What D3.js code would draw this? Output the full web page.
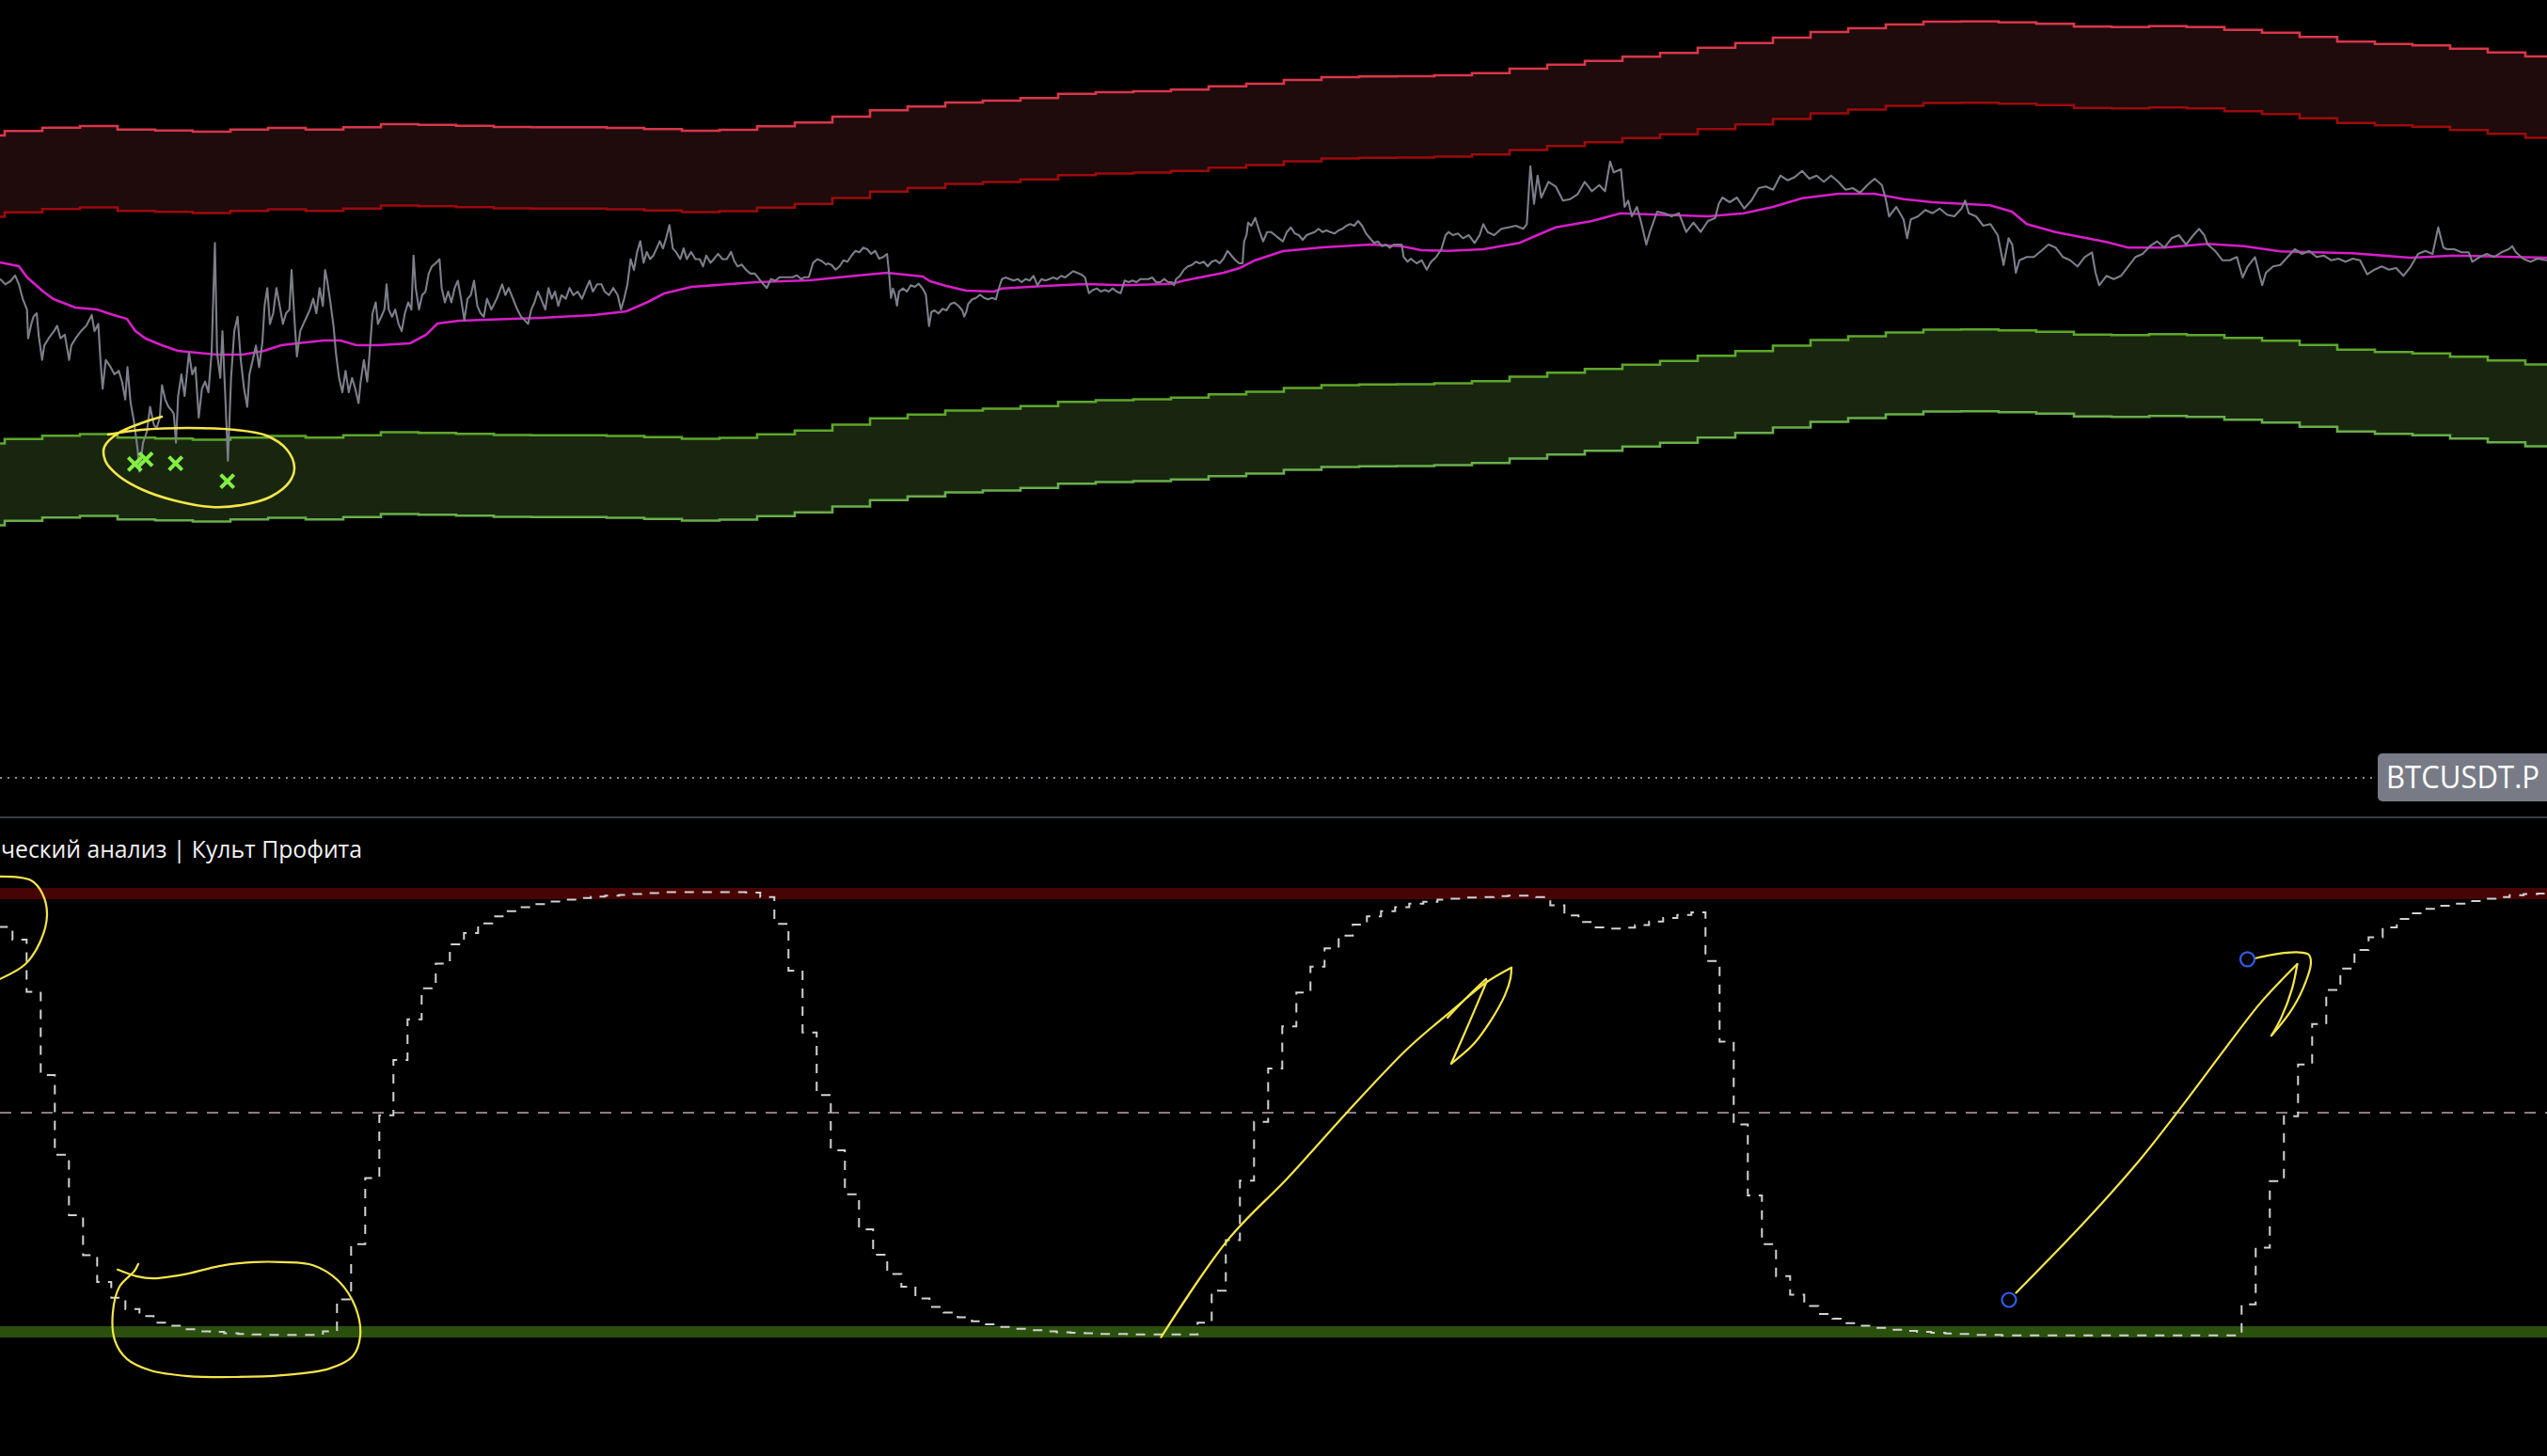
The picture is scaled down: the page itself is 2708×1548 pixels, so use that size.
<!DOCTYPE html>
<html><head><meta charset="utf-8">
<script src="https://cdn.jsdelivr.net/npm/d3@7"></script>
<style>html,body{margin:0;padding:0;background:#000;overflow:hidden}</style>
</head><body>
<svg id="c" width="2708" height="1548"></svg>
<script>
// ---------- DATA ----------
// band basis (upper edge of the red channel), one value per 8-day step
const bandBasis = [85.6,86.07,86.43,86.6,86.23,86.13,86.0,86.23,86.4,86.23,86.47,86.8,86.73,86.63,86.5,86.47,86.47,86.4,86.27,86.1,86.2,86.57,86.97,87.6,88.27,88.67,89.1,89.3,89.57,90.03,90.2,90.3,90.47,90.83,91.1,91.5,91.8,91.87,91.9,92.0,92.23,92.7,93.13,93.53,93.97,94.37,94.93,95.43,96.0,96.6,97.0,97.4,97.7,97.73,97.63,97.47,97.17,97.13,97.23,97.13,96.83,96.53,96.07,95.57,95.33,95.17,94.83,94.43,94.0];
const bandStartDay = -7, bandStepDays = 8;
const redBandWidth = 8.65, greenBandTop = 32.75, greenBandBottom = 41.45;

// moving average (magenta) [day, value]
const maSeries = [[0,72.1],[4,71.7],[5.8,70.5],[9.2,69],[11.4,68.2],[16,67.3],[20.6,67.1],[24.2,66.5],[27,66.1],[28.8,64.8],[31,64],[34.4,63.3],[37.8,62.7],[46,62.3],[51.6,62.3],[56.2,62.7],[59.8,63.3],[63.2,63.5],[68.8,63.8],[72.4,63.8],[75.8,63.3],[80.4,63.3],[87.2,63.5],[90.6,64.4],[93,65.6],[97.6,65.9],[109,66.1],[114.8,66.2],[126.2,66.5],[133.2,66.9],[137.8,67.9],[141.2,68.8],[147,69.5],[160.8,70],[172.2,70.2],[182.7,70.73],[188.6,71],[196.2,70.6],[197.8,70.1],[201.2,69.6],[205.4,69.1],[211.4,69],[213,69.33],[222.3,69.6],[230.7,69.8],[239.1,69.67],[249.2,69.83],[251.8,70.17],[260.2,71],[263.6,71.5],[266.9,72.33],[272.8,73.3],[281.2,73.7],[291.3,74],[298,73.83],[302.2,73.4],[308,73.33],[315.4,73.5],[323.1,74.17],[327.7,75.17],[330.8,75.83],[338.5,76.5],[344.6,77.33],[352.4,77.17],[363.2,77],[370.8,77.33],[377,78],[383.2,78.93],[390.9,79.4],[398.6,79.4],[404.8,78.83],[410.9,78.5],[423.2,78.17],[427.8,77.5],[431,76.17],[437.1,75.33],[447.9,74.27],[452.5,73.67],[460.2,73.67],[469.4,74.07],[477.2,73.83],[484.9,73.27],[500.3,73.07],[512.6,72.6],[521.8,72.83],[531.1,72.73],[541.6,72.6]];

// price (gray) [day, value]
const priceSeries = [[0,70.34],[1.14,69.77],[2.3,70.15],[3.22,70.72],[4.02,69.77],[4.82,68.24],[5.74,67.09],[5.98,64.03],[6.66,65.56],[7.12,66.32],[7.8,66.7],[8.26,64.22],[8.96,61.73],[9.42,63.26],[10.34,64.03],[11.48,64.79],[12.16,65.37],[12.86,64.03],[13.78,64.41],[14.7,61.73],[15.16,63.26],[16.08,64.03],[17.22,64.79],[18.36,65.37],[19.52,66.51],[20.1,64.79],[20.9,65.56],[21.36,61.73],[21.82,58.67],[22.5,61.73],[23.54,60.96],[24.34,60.2],[25.26,60.58],[25.94,59.43],[26.64,57.52],[27.1,60.96],[27.78,57.14],[28.48,55.22],[29.28,52.16],[29.62,49.87],[30.42,52.93],[31.22,54.08],[31.92,56.75],[32.72,54.84],[33.3,54.46],[33.98,55.61],[34.44,59.05],[35.14,57.52],[35.82,56.75],[36.5,56.37],[36.96,55.99],[37.42,52.93],[37.88,57.9],[38.58,60.2],[39.26,57.9],[40.18,62.5],[40.88,60.2],[41.56,60.96],[42.26,55.61],[42.94,58.67],[43.62,59.43],[44.32,58.29],[45,62.5],[45.7,74.17],[46.16,62.5],[46.84,59.82],[47.3,64.79],[48,56.75],[48.46,51.01],[49.14,59.82],[49.82,64.79],[50.52,66.32],[51.2,61.73],[51.9,58.67],[52.58,56.75],[53.04,60.2],[53.74,61.73],[54.42,63.26],[55.1,60.96],[55.8,63.64],[56.26,67.47],[56.84,69.38],[57.4,65.56],[58.1,66.7],[58.78,69.38],[59.48,67.47],[60.16,65.56],[60.84,66.7],[61.54,67.09],[62,71.3],[62.68,65.56],[63.14,62.11],[63.84,64.79],[64.52,65.56],[65.22,66.32],[65.9,67.09],[66.6,68.24],[67.28,66.7],[67.96,69.38],[68.66,67.47],[69.12,71.3],[69.58,70.15],[70.26,67.85],[70.96,65.17],[71.42,62.5],[72.1,59.82],[72.8,58.29],[73.48,60.58],[74.16,58.29],[74.86,59.82],[75.54,58.67],[76.24,57.14],[76.7,59.43],[77.38,61.73],[78.08,59.43],[78.54,62.11],[79.22,66.7],[79.9,67.85],[80.36,65.56],[81.06,66.32],[81.74,67.09],[82.2,69.77],[82.66,67.09],[83.36,66.32],[84.04,67.09],[84.74,65.56],[85.42,64.79],[86.1,66.7],[86.8,67.85],[87.48,67.09],[87.94,72.83],[88.4,69.38],[89.1,67.09],[89.78,68.62],[90.48,69],[91.16,70.91],[91.84,71.68],[92.76,72.06],[93.46,72.45],[93.92,69.38],[94.6,67.85],[95.3,69],[95.98,67.85],[96.68,69.38],[97.36,70.15],[98.04,68.24],[98.74,65.94],[99.42,68.24],[100.12,68.62],[100.8,70.15],[101.5,67.47],[102.18,66.7],[102.88,66.32],[103.56,68.24],[104.48,67.09],[105.62,68.24],[106.78,69.77],[107.46,68.62],[108.16,69.38],[109.08,68.24],[110,67.09],[110.8,66.32],[111.6,65.94],[112.28,65.56],[112.98,67.09],[113.66,67.85],[114.36,69],[115.04,68.24],[115.96,67.09],[116.64,69.38],[117.34,68.24],[118.02,69],[118.72,67.47],[119.4,68.62],[120.32,68.24],[121.12,69.38],[121.92,68.62],[122.84,69],[123.76,68.24],[124.68,69.38],[125.38,70.15],[126.06,69],[126.98,69.77],[127.9,69.77],[128.58,69],[129.5,68.62],[130.42,69.38],[131.34,68.62],[132.04,67.09],[132.72,68.24],[133.42,69.77],[134.1,72.45],[134.8,71.3],[135.48,73.21],[136.16,74.36],[136.86,72.06],[137.54,73.21],[138.24,72.45],[138.92,72.83],[139.62,73.59],[140.3,74.36],[140.98,73.59],[141.68,74.74],[142.36,76.08],[143.06,73.59],[143.74,73.21],[144.66,72.45],[145.36,73.59],[146.04,72.45],[146.96,73.21],[147.88,72.45],[148.8,72.45],[149.48,71.68],[150.18,72.83],[151.1,72.06],[151.78,72.45],[152.7,73.02],[153.62,72.45],[154.54,72.45],[155.46,73.21],[156.14,72.25],[156.84,71.68],[157.74,71.87],[158.66,71.3],[159.58,70.91],[160.5,70.91],[161.42,70.34],[162.34,69.77],[163.04,69.38],[163.94,70.34],[164.86,70.15],[165.78,70.53],[166.7,70.53],[167.62,70.53],[168.54,70.53],[169.46,70.72],[170.38,70.34],[171.06,70.53],[171.98,70.53],[172.9,72.06],[173.82,72.45],[174.74,72.25],[175.66,71.87],
[176,72],[176.84,71.83],[177.68,71.33],[178.52,71.67],[179.36,72.33],[180.2,72.17],[181.06,72.83],[181.9,73.33],[182.74,73.17],[183.58,73.67],[184.42,73.5],[185.26,73],[186.1,73.33],[186.94,72.5],[187.78,72.67],[188.62,73],[189.04,71],[189.46,68.33],[189.88,69.33],[190.32,68.67],[190.74,67.5],[191.16,69],[192,69.33],[192.84,69],[193.68,69.67],[194.52,69.5],[195.36,69.83],[196.2,69.33],[196.88,68.67],[197.22,67],[197.56,65.33],[198.06,66.83],[198.72,67],[199.58,66.67],[200.42,67.17],[201.26,67],[202.1,67.67],[202.94,67.83],[203.78,67.5],[204.62,67],[205.04,66.33],[205.46,66.83],[205.88,67.67],[206.72,68.17],[207.56,68.33],[208.4,68.67],[209.26,68.33],[210.1,68.17],[210.94,68.33],[211.78,68.17],[212.2,69],[212.62,69.67],[213.04,70.33],[213.88,70.5],[214.72,70.33],[215.56,70.17],[216.4,70.33],[217.24,70],[218.1,70.33],[218.94,70.17],[219.78,70.67],[220.62,69.67],[221.46,70.33],[222.3,70.17],[223.14,70.33],[223.98,70.5],[224.82,70.33],[225.66,70.67],[226.5,70.5],[227.34,70.83],[228.2,71.17],[229.04,71],[229.88,70.83],[230.72,70.5],[231.56,68.83],[232.4,69.17],[233.24,69.33],[234.08,69],[234.92,69.17],[235.76,69],[236.6,69.33],[237.46,69],[238.3,68.83],[239.14,70.17],[239.98,70],[240.82,70.17],[241.66,70],[242.5,70.33],[243.34,70.33],[244.18,70.33],[245.02,70.5],[245.86,70],[246.72,70],[247.56,70.33],[248.4,70],[249.24,70],[249.66,69.67],[250.08,70.33],[250.92,70.67],[251.76,71.33],[252.6,71.67],[253.44,71.83],[254.28,72.17],[255.12,72],[255.98,72.17],[256.82,71.67],[257.66,72.17],[258.5,72.33],[259.34,72],[260.18,72.5],[261.02,73.33],[261.86,72.83],[262.7,72.33],[263.54,72],[264.22,72],[264.56,74.33],[265.06,75],[265.4,76.33],[266.08,76],[266.92,76.83],[267.76,75.5],[268.6,74.33],[269.44,75.33],[270.28,75.33],[271.12,75],[271.96,74.67],[272.8,74.33],[273.64,75.33],[274.5,75.83],[275.34,75.17],[276.18,75],[277.02,74.5],[277.86,75],[278.7,75.17],[279.54,75.33],[280.38,75.67],[281.22,75.33],[282.06,75.5],[282.9,75.33],[283.76,75.17],[284.6,75.5],[285.44,75.67],[286.28,76],[287.12,76.17],[287.96,76],[288.8,76.5],[289.64,76],[290.48,75.17],[291.32,74.67],[292.16,74.17],[293,74.33],[293.86,73.83],[294.7,74],[295.54,73.67],[296.38,74],[297.22,74],[298.06,74],[298.48,72.67],[299.32,72.17],
[300,72.5],[301.24,72],[302.32,72.33],[303.38,71.33],[304.32,72.17],[305.4,72.67],[306.48,73.5],[307.4,75],[308.02,75.33],[308.94,75],[310.02,75.17],[311.1,74.67],[312.32,75],[313.56,74.17],[314.64,75],[315.4,76.17],[316.34,75.33],[317.72,75],[319.26,75.67],[320.8,75.83],[322.34,76],[323.88,75.67],[324.66,76.17],[325.42,82.33],[326.2,78.33],[326.96,81.33],[327.74,79],[329.28,80.67],[330.82,80.17],[332.36,78.67],[333.9,78.83],[335.44,79.33],[336.98,80.67],[338.52,79.67],[340.06,80.33],[341.3,79.67],[342.38,82.83],[343.14,81.67],[344.68,82],[345.46,78],[346.22,78.67],[347,77],[348.08,78],[349,76.33],[350.08,74],[350.84,75.33],[352.38,77.5],[353.92,77.33],[355.46,77],[357,77.33],[358.56,75.33],[360.1,76.33],[361.64,75.33],[363.18,76.5],[364.72,76.83],[365.48,78.33],[366.26,79],[367.8,78.5],[369.34,79],[370.88,77.83],[372.42,78.67],[373.96,80],[375.5,80.17],[377.04,79.83],[378.58,81.33],[380.12,80.83],[381.66,81.17],[383.2,81.83],[384.74,81],[386.28,81.33],[387.82,80.67],[389.36,81.33],[390.9,80.67],[392.44,79.83],[393.98,80],[395.52,79.5],[397.08,80.33],[398.62,81],[400.16,80.33],[400.92,79],[401.7,77],[403.24,78],[404.78,76.67],[405.54,74.67],[406.32,76.67],[407.86,77],[409.4,77.67],[410.94,77.33],[412.48,77.83],[414.02,77.17],[415.56,77],[417.1,77.83],[417.88,78.67],[418.64,77.33],[420.18,77],[421.72,76],[423.26,76.17],[424.8,75],[426.04,71.83],[427.12,74.67],[427.88,74],[428.66,71],[429.42,72.33],[430.96,72.67],[432.5,72.67],[434.04,73.33],[435.6,74],[437.14,73.67],[438.68,72.67],[440.22,72.33],[441.76,71.67],[443.3,72.67],[444.84,73.17],[445.6,71],[446.38,69.67],[447.92,70.67],[449.46,70.33],[451,70.67],[452.54,71.67],[454.08,72.67],[455.62,73],[457.16,73.83],[458.7,74.33],[460.24,73.67],[461.78,74.67],[463.32,75],[464.86,74],[466.4,75],[467.64,75.67],[468.72,75],[469.48,74],[471.02,73.33],[472.56,72.33],[474.12,72.33],[475.66,72.67],[476.88,70.5],[477.96,71.67],[479.5,72.67],[481.04,69.67],[481.82,71],[483.36,71.67],[484.9,71.83],[486.44,72.67],[487.98,73.5],[489.52,73],[491.06,73.33],[492.6,72.67],[494.14,72.83],[495.68,72.33],[497.22,72.5],[498.76,72.17],[500.3,72.5],[501.84,72.33],[503.38,70.83],[504.92,71.33],[506.46,71.67],[508,71.33],[509.54,71.5],[511.08,70.67],[512.64,71.67],[514.18,73],[515.72,73.33],[517.26,73],[518.48,75.83],[519.56,73.67],[520.34,73.5],[521.88,73.5],[523.42,73.17],[524.96,73.17],[525.72,72.17],[527.26,72.67],[528.8,73],[530.34,72.67],[531.88,73.17],[533.44,73.5],[534.2,73.83],[534.98,73.17],[536.52,72.5],[538.06,72.17],[539.6,72.5],[541.6,72.33]];

// signal markers (green crosses) [day, value]
const lowMarkers = [[28.67,50.67],[31,51.17],[37.33,50.73],[48.33,48.83]];

// oscillator (0..100), one value per 3-day step
const oscValues = [92.4,89.5,77.6,58.6,40.4,26.6,17.5,11.4,7.8,5.2,
3.6,2.1,1.4,0.6,0.1,0,-0.3,-0.5,-0.6,-0.7,
-0.7,-0.7,-0.7,0.1,7.4,20,35.1,49.4,62,71.3,
78.4,84,88.4,91,93.2,94.8,96,96.9,97.6,98.2,
98.6,99,99.3,99.5,99.7,99.9,100.1,100.3,100.3,100.3,
100.3,100.3,100.3,100.2,99.2,93.1,82.4,68.3,54,41.4,
31.4,23.4,17.6,13.2,10.3,7.6,5.7,4.4,3.3,2.4,
1.7,1.1,0.7,0.4,0.1,-0.1,-0.2,-0.3,-0.5,-0.5,
-0.6,-0.6,-0.6,-0.6,-0.6,2.1,9.4,20.9,34.5,47.9,
60.1,69.7,77.4,83.3,87.5,90.4,92.9,94.8,96,96.9,
97.7,98.1,98.6,98.8,99.1,99.2,99.4,99.5,99.5,99.2,
97.3,95,93.5,92.3,92.0,92.2,92.8,93.6,94.4,95.1,
95.7,84.6,66.2,47.3,31.1,20,12.7,8.5,5.9,4.1,
3,2,1.4,0.9,0.5,0.2,0,-0.2,-0.4,-0.5,
-0.7,-0.7,-0.8,-0.8,-0.8,-0.8,-0.8,-0.8,-0.8,-0.8,
-0.8,-0.8,-0.8,-0.8,-0.8,-0.8,-0.8,-0.8,-0.8,6.3,
19.2,34.4,49.2,61,70.2,78,82.9,87.1,90,92.3,
94.2,95.5,96.5,97.2,97.7,98.3,98.8,99.2,99.6,99.9,
100];
const oscStartDay = -0.34, oscStepDays = 3;
const oscOverbought = 100, oscMid = 50, oscOversold = 0;

// texts
const symbolLabel = "BTCUSDT.P";
const paneTitle = "ческий анализ | Культ Профита";

// hand-drawn annotations
const noteTopLoop = [[34.4,55.7],[30,55],[25,53.9],[22.2,52.5],[22.4,51],[25,49.5],[30,48],[37,46.8],[45,46.1],[51.4,46.3],[57.6,47.2],[61.6,48.8],[62.6,50.3],[61,52.2],[56.6,53.7],[50,54.3],[40,54.5],[30,54.3],[23,53.8]];
const noteOscArc = [[0,103.9],[6.6,103],[9,100],[10,95.1],[8.6,89.1],[5.4,83.9],[0,80.5]];
const noteOscLoop = [[25,14.2],[29,12.7],[32.6,12.2],[40,13.3],[46.6,15],[54,15.9],[60,15.9],[66.6,15.2],[72,11.6],[75.6,5.6],[76.6,-0.9],[75,-5.6],[70,-8.4],[60,-9.9],[50,-10.3],[40,-10.1],[32,-8.8],[27,-6.2],[24.4,-1.9],[24,4.5],[25.4,10.3],[28.6,13.9],[29.4,15.5]];
const noteMidMain = [[246.9,-1.2],[261.2,21.1],[273.9,35.2],[286.7,50.4],[299.4,64.7],[308.4,73],[316,79.7],[321.4,83.1]];
const noteMidHookOut = [[321.4,83.1],[321.2,80.7],[320,76.8],[317,71],[313.4,65.7],[308.6,61.2]];
const noteMidHookIn = [[308.6,61.2],[312.6,71],[316.2,80.1]];
const noteMidTick = [[307.8,71.7],[312,76.4],[316,80.5]];
const noteRightMain = [[428.7,8.9],[443.4,25.2],[455,39.2],[464.2,51.8],[473.5,65.1],[480.4,74.7],[485.1,80.2],[488.5,83.9]];
const noteRightHookIn = [[488.5,83.9],[487.4,78.3],[485.1,71.7],[483,67.6]];
const noteRightHookOut = [[483,67.6],[487,73],[489.7,78.3],[491.4,84.3],[490.9,86.1],[488.5,86.6],[484,86.2],[479.4,85.2]];
const noteCircles = [[427.2,7.3],[477.9,85]];

// ---------- DRAW ----------
const W = 2708, H = 1548;
const svg = d3.select("#c");
svg.append("rect").attr("width", W).attr("height", H).attr("fill", "#000");

const x = d3.scaleLinear().domain([0, 541.6]).range([0, W]);
const yP = d3.scaleLinear().domain([13.1, 100]).range([869, 0]);
const yO = d3.scaleLinear().domain([0, 100]).range([1416, 950]);

// bands
const bandPts = bandBasis.map((v, i) => ({d: bandStartDay + i * bandStepDays, v}));
bandPts.push({d: bandStartDay + bandBasis.length * bandStepDays, v: bandBasis[bandBasis.length - 1]});
const bandArea = (hi, lo) => d3.area().curve(d3.curveStepAfter)
  .x(p => x(p.d)).y1(p => yP(p.v - hi)).y0(p => yP(p.v - lo));
const bandLine = off => d3.line().curve(d3.curveStepAfter).x(p => x(p.d)).y(p => yP(p.v - off));

const gTop = svg.append("g");
gTop.append("path").datum(bandPts).attr("d", bandArea(0, redBandWidth)).attr("fill", "#1f0a0c");
gTop.append("path").datum(bandPts).attr("d", bandArea(greenBandTop, greenBandBottom)).attr("fill", "#18260f");
[[0, "#d8374a"], [redBandWidth, "#9c0b0b"], [greenBandTop, "#5ea72b"], [greenBandBottom, "#6aae4c"]]
  .forEach(([off, col]) => {
    gTop.append("path").datum(bandPts).attr("d", bandLine(off))
      .attr("fill", "none").attr("stroke", col).attr("stroke-width", 2.6);
  });

// magenta MA
gTop.append("path").datum(maSeries)
  .attr("d", d3.line().x(p => x(p[0])).y(p => yP(p[1])))
  .attr("fill", "none").attr("stroke", "#d61ec8").attr("stroke-width", 2.6);

// price
gTop.append("path").datum(priceSeries)
  .attr("d", d3.line().x(p => x(p[0])).y(p => yP(p[1])))
  .attr("fill", "none").attr("stroke", "#7c7f8a").attr("stroke-width", 2.1)
  .attr("stroke-linejoin", "round");

// markers
gTop.selectAll("path.mk").data(lowMarkers).enter().append("path")
  .attr("class", "mk")
  .attr("transform", p => `translate(${x(p[0])},${yP(p[1])})`)
  .attr("d", "M-7,-7L7,7M-7,7L7,-7")
  .attr("stroke", "#82ef42").attr("stroke-width", 4).attr("fill", "none");

// pane separator, dotted price line, label
svg.append("line").attr("x1", 0).attr("x2", W).attr("y1", 869).attr("y2", 869)
  .attr("stroke", "#3a3d47").attr("stroke-width", 2);
svg.append("line").attr("x1", 0).attr("x2", 2527).attr("y1", 827).attr("y2", 827)
  .attr("stroke", "#8a8d97").attr("stroke-width", 2).attr("stroke-dasharray", "2,6");
svg.append("rect").attr("x", 2528).attr("y", 801).attr("width", 200).attr("height", 51)
  .attr("rx", 5).attr("fill", "#787b86");
svg.append("text").attr("x", 2537).attr("y", 838).text(symbolLabel)
  .attr("fill", "#ffffff").attr("font-family", "'Open Sans', sans-serif")
  .attr("font-size", 32.5).attr("textLength", 163).attr("lengthAdjust", "spacingAndGlyphs");

// title
svg.append("text").attr("x", 1).attr("y", 912).text(paneTitle)
  .attr("fill", "#f2f2f2").attr("font-family", "'Open Sans', sans-serif")
  .attr("font-size", 25.5).attr("textLength", 384).attr("lengthAdjust", "spacingAndGlyphs");

// oscillator pane
const gOsc = svg.append("g");
const levelLine = (v, col, w, dash) => {
  const l = gOsc.append("line").attr("x1", 0).attr("x2", W).attr("y1", yO(v)).attr("y2", yO(v))
    .attr("stroke", col).attr("stroke-width", w);
  if (dash) l.attr("stroke-dasharray", dash);
};
levelLine(oscOverbought, "#470404", 12);
levelLine(oscOversold, "#2b500e", 12);
levelLine(oscMid, "#8e7c84", 2, "12,10");

const oscPts = oscValues.map((v, i) => ({d: oscStartDay + i * oscStepDays, v}));
oscPts.push({d: oscStartDay + oscValues.length * oscStepDays, v: oscValues[oscValues.length - 1]});
gOsc.append("path").datum(oscPts)
  .attr("d", d3.line().curve(d3.curveStepAfter).x(p => x(p.d)).y(p => yO(p.v)))
  .attr("fill", "none").attr("stroke", "#d2d2d2").attr("stroke-width", 2)
  .attr("stroke-dasharray", "10,9");

// annotations
const gNote = svg.append("g").attr("fill", "none").attr("stroke", "#f5e64a")
  .attr("stroke-width", 2.6).attr("stroke-linecap", "round").attr("stroke-linejoin", "round");
const curveP = d3.line().curve(d3.curveCatmullRom.alpha(0.5)).x(p => x(p[0])).y(p => yP(p[1]));
const curveO = d3.line().curve(d3.curveCatmullRom.alpha(0.5)).x(p => x(p[0])).y(p => yO(p[1]));
gNote.append("path").attr("d", curveP(noteTopLoop));
[noteOscArc, noteOscLoop, noteMidMain, noteMidHookOut, noteMidHookIn, noteMidTick,
 noteRightMain, noteRightHookIn, noteRightHookOut].forEach(a => {
  gNote.append("path").attr("d", curveO(a)).attr("stroke-width", 2.2);
});
svg.selectAll("circle.nc").data(noteCircles).enter().append("circle")
  .attr("class", "nc").attr("cx", p => x(p[0])).attr("cy", p => yO(p[1])).attr("r", 7.5)
  .attr("fill", "none").attr("stroke", "#2f5de8").attr("stroke-width", 2.2);
</script>
</body></html>
